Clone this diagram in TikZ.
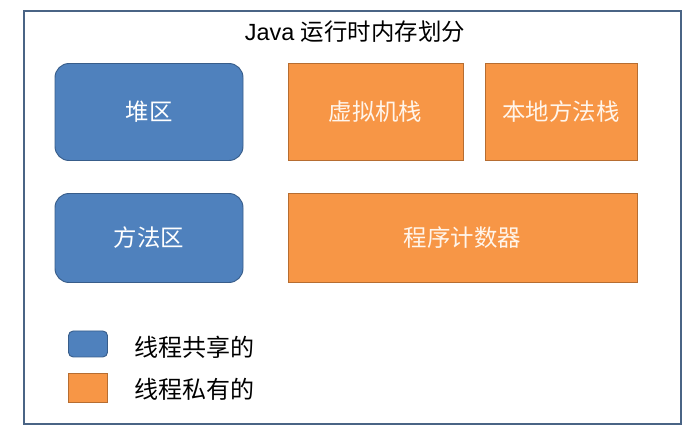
\documentclass[tikz,border=0pt]{standalone}
\usepackage{fontspec}
\setmainfont{Liberation Sans}
\newfontfamily\cjk{Noto Sans CJK SC}
\usetikzlibrary{positioning}
\definecolor{shareblue}{HTML}{4F81BD}
\definecolor{shareline}{HTML}{385D8A}
\definecolor{privorange}{HTML}{F79646}
\definecolor{privline}{HTML}{B66D31}
\definecolor{frameline}{HTML}{4A6485}

\begin{document}
\begin{tikzpicture}[x=0.03cm,y=-0.03cm,
  shared/.style={draw=shareline,fill=shareblue,rounded corners=12pt,line width=0.8pt,
    text=white,font=\cjk\fontsize{20}{24}\selectfont},
  private/.style={draw=privline,fill=privorange,line width=0.8pt,
    text=white!92!orange,font=\cjk\fontsize{20}{24}\selectfont},
  legtext/.style={font=\cjk\fontsize{20.5}{24}\selectfont,anchor=west,inner sep=0pt}]
\useasboundingbox (0,0) rectangle (692,431);
\draw[frameline,line width=1.6pt] (24,11) rectangle (681,424);
\node[font=\fontsize{20}{24}\selectfont] (title) at (355,32) {Java {\cjk 运行时内存划分}};
% memory areas
\node[shared,minimum width=188*0.03cm,minimum height=97*0.03cm] (heap) at (149,112) {堆区};
\node[private,minimum width=175*0.03cm,minimum height=97*0.03cm] (vmstack) at (375.5,112) {虚拟机栈};
\node[private,minimum width=152*0.03cm,minimum height=97*0.03cm] (nativestack) at (561,112) {本地方法栈};
\node[shared,minimum width=188*0.03cm,minimum height=89*0.03cm] (methodarea) at (149,238) {方法区};
\node[private,minimum width=349*0.03cm,minimum height=89*0.03cm] (pc) at (462.5,238) {程序计数器};
% legend
\node[shared,rounded corners=4pt,minimum width=39*0.03cm,minimum height=26*0.03cm] (sharekey) at (88,344) {};
\node[private,minimum width=39*0.03cm,minimum height=29*0.03cm] (privkey) at (88,388) {};
\node[legtext] (sharetext) at (134,347) {线程共享的};
\node[legtext] (privtext) at (134,389) {线程私有的};
\end{tikzpicture}
\end{document}
